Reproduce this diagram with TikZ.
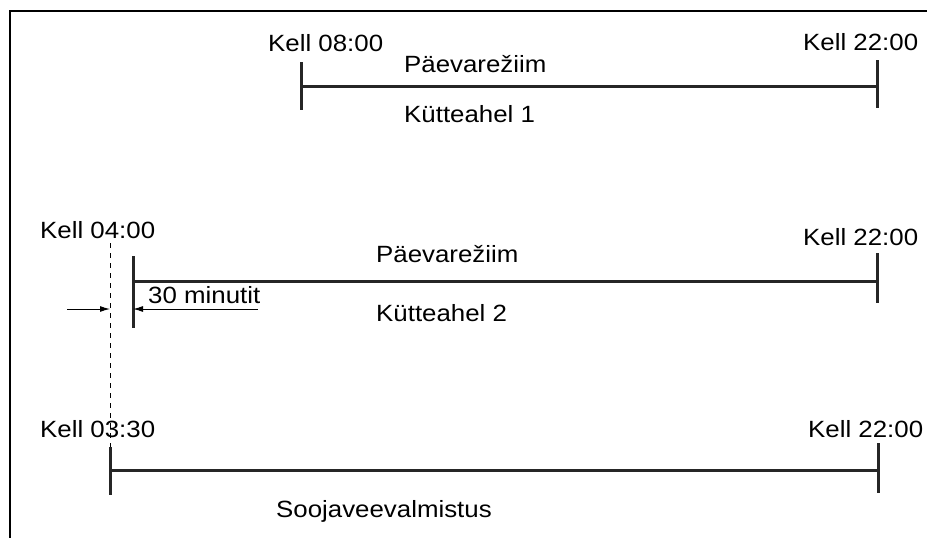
\documentclass[tikz,border=0pt]{standalone}
\usepackage{fontspec}
\setmainfont{Liberation Sans}[FakeStretch=1.1]
\usetikzlibrary{arrows.meta}

\begin{document}
\begin{tikzpicture}[x=1pt,y=-1pt,
  lbl/.style={anchor=base west, inner sep=0pt, font=\fontsize{23.5}{28}\selectfont},
  bar/.style={line width=3pt, draw=black!85},
  frame/.style={line width=1.4pt},
  dim/.style={line width=1pt, -{Latex[length=10pt,width=6pt]}},
  guide/.style={line width=1pt, dash pattern=on 5pt off 5pt}]
\useasboundingbox (0,0) rectangle (927,538);
\draw[frame] (927,11) -- (10,11) -- (10,538);

% heating circuit 1
\coordinate (a1t) at (301,62);  \coordinate (a1m) at (301,86);  \coordinate (a1b) at (301,110);
\coordinate (b1t) at (877,60);  \coordinate (b1m) at (877,86);  \coordinate (b1b) at (877,108);
\draw[bar] (a1t) -- (a1b);
\draw[bar] (b1t) -- (b1b);
\draw[bar] (a1m) -- (b1m);
\node[lbl] (k1a) at (268,51) {Kell 08:00};
\node[lbl] (k1b) at (803,50) {Kell 22:00};
\node[lbl] (p1) at (404,72) {Päevarežiim};
\node[lbl] (h1) at (404,122) {Kütteahel 1};

% heating circuit 2
\coordinate (a2t) at (133,256); \coordinate (a2m) at (133,281); \coordinate (a2b) at (133,328);
\coordinate (b2t) at (877,253); \coordinate (b2m) at (877,281); \coordinate (b2b) at (877,303);
\draw[bar] (a2t) -- (a2b);
\draw[bar] (b2t) -- (b2b);
\draw[bar] (a2m) -- (b2m);
\node[lbl] (k2a) at (40,238) {Kell 04:00};
\node[lbl] (k2b) at (803,245) {Kell 22:00};
\node[lbl] (p2) at (376,262) {Päevarežiim};
\node[lbl] (h2) at (376,321) {Kütteahel 2};
\node[lbl] (d2) at (148,303) {30 minutit};

% hot water preparation
\coordinate (a3t) at (110,447); \coordinate (a3m) at (110,470); \coordinate (a3b) at (110,495);
\coordinate (b3t) at (878,443); \coordinate (b3m) at (878,470); \coordinate (b3b) at (878,493);
\draw[bar] (a3t) -- (a3b);
\draw[bar] (b3t) -- (b3b);
\draw[bar] (a3m) -- (b3m);
\node[lbl] (k3a) at (40,437) {Kell 03:30};
\node[lbl] (k3b) at (808,437) {Kell 22:00};
\node[lbl] (w3) at (276,517) {Soojaveevalmistus};

% 30 minute offset dimension
\coordinate (g1) at (110,243);
\draw[guide] (g1) -- (a3t);
\coordinate (dl) at (67,309);  \coordinate (dlt) at (110,309);
\coordinate (dr) at (258,309); \coordinate (drt) at (133,309);
\draw[dim] (dl) -- (dlt);
\draw[dim] (dr) -- (drt);
\end{tikzpicture}
\end{document}
